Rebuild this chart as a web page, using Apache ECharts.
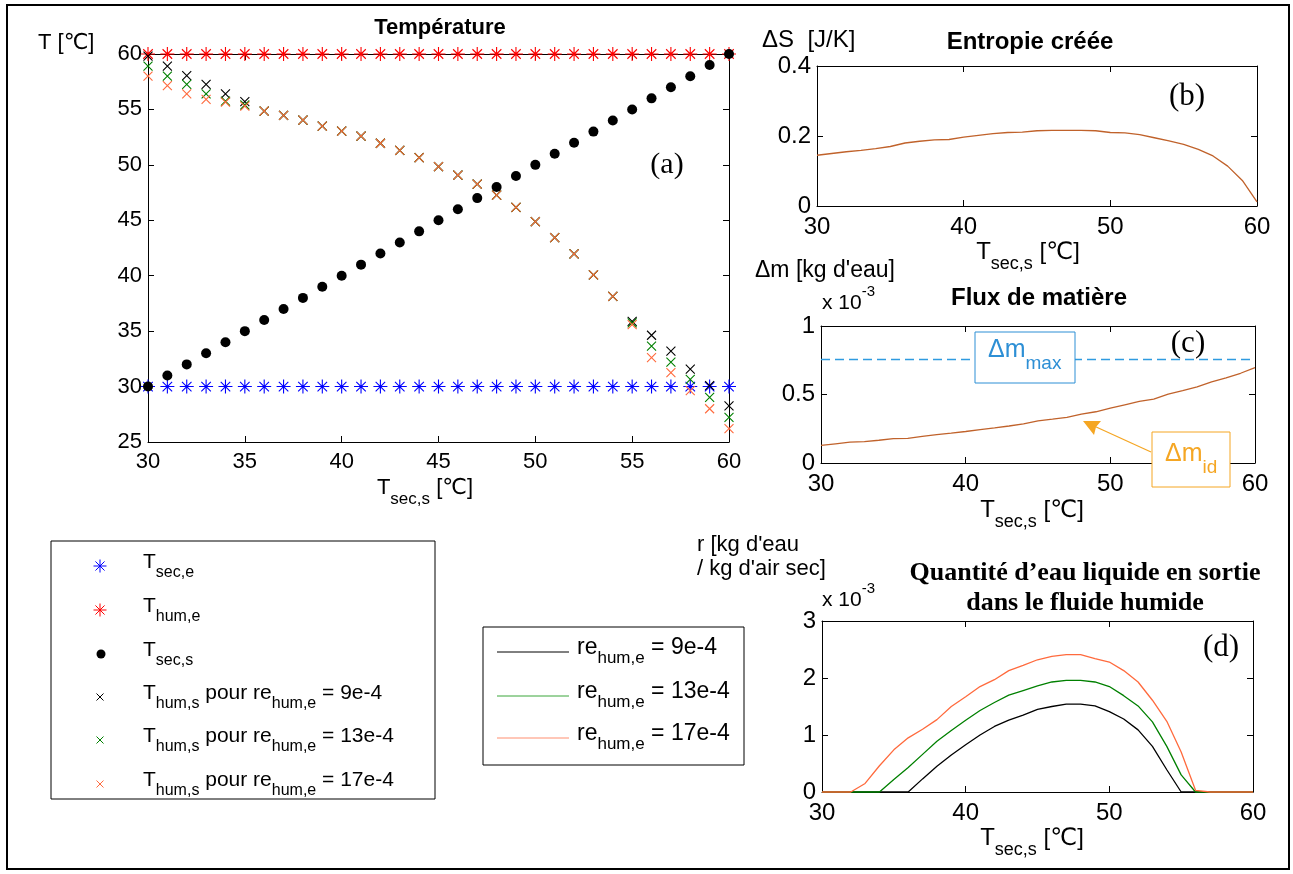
<!DOCTYPE html>
<html><head><meta charset="utf-8">
<script src="https://cdn.jsdelivr.net/npm/echarts@6/dist/echarts.min.js"></script>
<style>html,body{margin:0;padding:0;background:#fff}#c{width:1293px;height:874px}</style>
</head><body><div id="c"></div>
<script>
// ---------- DATA ----------
const tSecOut = [30,31,32,33,34,35,36,37,38,39,40,41,42,43,44,45,46,47,48,49,50,51,52,53,54,55,56,57,58,59,60];
const tSecIn  = [30,30,30,30,30,30,30,30,30,30,30,30,30,30,30,30,30,30,30,30,30,30,30,30,30,30,30,30,30,30,30];
const tHumIn  = [60,60,60,60,60,60,60,60,60,60,60,60,60,60,60,60,60,60,60,60,60,60,60,60,60,60,60,60,60,60,60];
const tHumOut9  = [59.8,58.9,58.05,57.25,56.4,55.7,54.85,54.46,54.04,53.5,53.05,52.6,51.95,51.3,50.66,49.85,49.07,48.26,47.27,46.16,44.87,43.43,41.97,40.08,38.13,35.89,34.63,33.19,31.57,30.08,28.25];
const tHumOut13 = [58.9,58.0,57.25,56.4,55.75,55.4,54.85,54.46,54.04,53.5,53.05,52.6,51.95,51.3,50.66,49.85,49.07,48.26,47.27,46.16,44.87,43.43,41.97,40.08,38.13,35.75,33.64,32.2,30.65,29.03,27.23];
const tHumOut17 = [58.0,57.15,56.4,55.9,55.65,55.3,54.85,54.46,54.04,53.5,53.05,52.6,51.95,51.3,50.66,49.85,49.07,48.26,47.27,46.16,44.87,43.43,41.97,40.08,38.13,35.59,32.62,31.25,29.63,28.0,26.2];
const entropy = [0.145,0.150,0.155,0.159,0.164,0.170,0.180,0.185,0.189,0.190,0.197,0.202,0.207,0.210,0.211,0.215,0.216,0.216,0.216,0.215,0.210,0.209,0.204,0.195,0.186,0.176,0.162,0.143,0.114,0.073,0.012];
const massFlux = [0.128,0.140,0.152,0.156,0.166,0.178,0.180,0.195,0.207,0.218,0.230,0.243,0.256,0.270,0.285,0.308,0.320,0.333,0.357,0.374,0.400,0.425,0.450,0.466,0.502,0.528,0.556,0.592,0.621,0.655,0.696];
const massMax = 0.755;
const liquid9  = [0,0,0,0,0,0,0,0.23,0.45,0.65,0.83,1.00,1.15,1.26,1.35,1.45,1.50,1.54,1.54,1.51,1.41,1.28,1.09,0.80,0.39,0,0,0,0,0,0];
const liquid13 = [0,0,0,0,0,0.22,0.43,0.66,0.89,1.08,1.26,1.43,1.57,1.70,1.78,1.86,1.93,1.96,1.96,1.93,1.85,1.69,1.51,1.23,0.80,0.30,0,0,0,0,0];
const liquid17 = [0,0,0,0.15,0.46,0.74,0.95,1.10,1.27,1.50,1.67,1.85,1.97,2.13,2.22,2.32,2.38,2.41,2.41,2.34,2.28,2.13,1.93,1.61,1.24,0.70,0.03,0,0,0,0];

// ---------- STYLE ----------
const F = 'Liberation Sans, Arial, DejaVu Sans, sans-serif';
const FS = 'Liberation Serif, Times New Roman, DejaVu Serif, serif';
const C_BLUE = '#0000ff', C_RED = '#ff0000', C_GREEN = '#008000', C_ORANGE = '#ff6a3d', C_BROWN = '#c0622b';
const ASTER = 'path://M5,0L5,10M0,5L10,5M1.6,1.6L8.4,8.4M1.6,8.4L8.4,1.6';
const CROSS = 'path://M0,0L10,10M0,10L10,0';

const pairs = (ys) => tSecOut.map((x, i) => [x, ys[i]]);

function xAxes(gi, interval, fs) {
  const common = {
    gridIndex: gi, type: 'value', min: 30, max: 60, interval: interval,
    axisLine: {show: true, onZero: false, lineStyle: {color: '#000', width: 1}},
    axisTick: {show: true, inside: true, length: 6, lineStyle: {color: '#000'}},
    splitLine: {show: false}
  };
  return [
    Object.assign({}, common, {position: 'bottom', axisLabel: {fontSize: fs, color: '#000', fontFamily: F, margin: 9}}),
    Object.assign({}, common, {position: 'top', axisLabel: {show: false}})
  ];
}
function yAxes(gi, min, max, interval, fs) {
  const common = {
    gridIndex: gi, type: 'value', min: min, max: max, interval: interval,
    axisLine: {show: true, onZero: false, lineStyle: {color: '#000', width: 1}},
    axisTick: {show: true, inside: true, length: 6, lineStyle: {color: '#000'}},
    splitLine: {show: false}
  };
  return [
    Object.assign({}, common, {position: 'left', axisLabel: {fontSize: fs, color: '#000', fontFamily: F, margin: 6}}),
    Object.assign({}, common, {position: 'right', axisLabel: {show: false}})
  ];
}

// rich text helpers
function subText(x, yCenter, text, align, color, size) {
  size = size || 21;
  const col = color || '#000';
  const r = {
    b: {fontSize: size, fontFamily: F, lineHeight: size + 3, verticalAlign: 'top', fill: col},
    s: {fontSize: Math.round(size * 0.76), fontFamily: F, lineHeight: Math.round(size * 0.76) + 2, verticalAlign: 'top',
        padding: [Math.round(size * 0.62), 0, 0, 0], fill: col}
  };
  return {type: 'text', x: x, y: yCenter - r.b.lineHeight / 2, silent: true,
    style: {text: text, rich: r, align: align || 'left', verticalAlign: 'top'}};
}
function supText(x, yCenter, base, sup) {
  return {type: 'text', x: x, y: yCenter - 21, silent: true,
    style: {text: '{b|' + base + '}{p|' + sup + '}', align: 'left', verticalAlign: 'top',
      rich: {
        b: {fontSize: 21, fontFamily: F, lineHeight: 24, padding: [9, 0, 0, 0], verticalAlign: 'top', fill: '#000'},
        p: {fontSize: 15, fontFamily: F, lineHeight: 17, verticalAlign: 'top', fill: '#000'}
      }}};
}
function plain(x, y, text, opt) {
  return {type: 'text', x: x, y: y, silent: true,
    style: Object.assign({text: text, fontSize: 21, fontFamily: F, fill: '#000', align: 'left', verticalAlign: 'middle'}, opt || {})};
}
function asterisk(cx, cy, r, color) {
  const d = r * 0.7;
  return [[0, -r, 0, r], [-r, 0, r, 0], [-d, -d, d, d], [-d, d, d, -d]].map(s => ({
    type: 'line', silent: true, shape: {x1: cx + s[0], y1: cy + s[1], x2: cx + s[2], y2: cy + s[3]},
    style: {stroke: color, lineWidth: 1}}));
}
function cross(cx, cy, r, color) {
  return [[-r, -r, r, r], [-r, r, r, -r]].map(s => ({
    type: 'line', silent: true, shape: {x1: cx + s[0], y1: cy + s[1], x2: cx + s[2], y2: cy + s[3]},
    style: {stroke: color, lineWidth: 1}}));
}

const TSS = '{b|T}{s|sec,s}{b| [℃]}';

let graphics = [];
// outer frame
graphics.push({type: 'rect', silent: true, shape: {x: 7, y: 5, width: 1282, height: 864}, style: {fill: 'none', stroke: '#000', lineWidth: 2}, z: -1});
// panel (a)
graphics.push(plain(38, 43, 'T [℃]', {fontSize: 22}));
graphics.push(plain(440, 28, 'Température', {align: 'center', fontWeight: 'bold', fontSize: 22}));
graphics.push(subText(425, 489, TSS, 'center', null, 22));
graphics.push(plain(667, 165, '(a)', {align: 'center', fontFamily: FS, fontSize: 30}));
// panel (b)
graphics.push(plain(762, 40, 'ΔS  [J/K]', {fontSize: 24}));
graphics.push(plain(1030, 42, 'Entropie créée', {align: 'center', fontWeight: 'bold', fontSize: 24}));
graphics.push(subText(1028, 254, TSS, 'center', null, 24));
graphics.push(plain(1187, 97, '(b)', {align: 'center', fontFamily: FS, fontSize: 31}));
// panel (c)
graphics.push(plain(755, 271, 'Δm [kg d\'eau]', {fontSize: 23}));
graphics.push(supText(822, 305, 'x 10', '-3'));
graphics.push(plain(1039, 298, 'Flux de matière', {align: 'center', fontWeight: 'bold', fontSize: 24}));
graphics.push(subText(1032, 512, TSS, 'center', null, 24));
graphics.push(plain(1188, 344, '(c)', {align: 'center', fontFamily: FS, fontSize: 31}));
// annotation boxes in (c)
graphics.push({type: 'rect', silent: true, shape: {x: 975, y: 332, width: 100, height: 51}, style: {fill: '#fff', stroke: '#2d8fd5', lineWidth: 1}, z: 10});
graphics.push(Object.assign(subText(988, 352, '{b|Δm}{s|max}', 'left', '#2d8fd5', 25), {z: 11}));
graphics.push({type: 'rect', silent: true, shape: {x: 1152, y: 432, width: 78, height: 55}, style: {fill: '#fff', stroke: '#f5a623', lineWidth: 1}, z: 10});
graphics.push(Object.assign(subText(1165, 456, '{b|Δm}{s|id}', 'left', '#f5a623', 25), {z: 11}));
graphics.push({type: 'line', silent: true, shape: {x1: 1151, y1: 452, x2: 1094, y2: 426}, style: {stroke: '#f5a623', lineWidth: 1.3}, z: 10});
graphics.push({type: 'polygon', silent: true, shape: {points: [[1083, 421], [1101, 421], [1096, 427], [1094, 435]]}, style: {fill: '#f5a623'}, z: 10});
// panel (d)
graphics.push(plain(697, 545, 'r [kg d\'eau', {fontSize: 22}));
graphics.push(plain(697, 569, '/ kg d\'air sec]', {fontSize: 22}));
graphics.push(plain(1085, 573, 'Quantité d’eau liquide en sortie', {align: 'center', fontFamily: FS, fontWeight: 'bold', fontSize: 26}));
graphics.push(plain(1085, 603, 'dans le fluide humide', {align: 'center', fontFamily: FS, fontWeight: 'bold', fontSize: 26}));
graphics.push(supText(822, 602, 'x 10', '-3'));
graphics.push(subText(1032, 840, TSS, 'center', null, 24));
graphics.push(plain(1221, 648, '(d)', {align: 'center', fontFamily: FS, fontSize: 31}));

// legend 1
graphics.push({type: 'rect', silent: true, shape: {x: 51, y: 541, width: 384, height: 258}, style: {fill: '#fff', stroke: '#000', lineWidth: 1}});
const leg1 = [
  {y: 566, t: '{b|T}{s|sec,e}'},
  {y: 610, t: '{b|T}{s|hum,e}'},
  {y: 654, t: '{b|T}{s|sec,s}'},
  {y: 697, t: '{b|T}{s|hum,s}{b| pour re}{s|hum,e}{b| = 9e-4}'},
  {y: 740, t: '{b|T}{s|hum,s}{b| pour re}{s|hum,e}{b| = 13e-4}'},
  {y: 784, t: '{b|T}{s|hum,s}{b| pour re}{s|hum,e}{b| = 17e-4}'}
];
leg1.forEach(l => graphics.push(subText(143, l.y - 2, l.t, 'left', null, 21)));
graphics = graphics.concat(asterisk(100, 566, 6.5, C_BLUE));
graphics = graphics.concat(asterisk(100, 610, 6.5, C_RED));
graphics.push({type: 'circle', silent: true, shape: {cx: 101, cy: 654, r: 4.5}, style: {fill: '#000'}});
graphics = graphics.concat(cross(100, 697, 3.5, '#000'));
graphics = graphics.concat(cross(100, 740, 3.5, C_GREEN));
graphics = graphics.concat(cross(100, 784, 3.5, C_ORANGE));
// legend 2
graphics.push({type: 'rect', silent: true, shape: {x: 483, y: 627, width: 261, height: 138}, style: {fill: '#fff', stroke: '#000', lineWidth: 1}});
[[652, '#000', '9e-4'], [696, '#3aa63a', '13e-4'], [738, '#ff8f70', '17e-4']].forEach(r => {
  graphics.push({type: 'line', silent: true, shape: {x1: 497, y1: r[0], x2: 569, y2: r[0]}, style: {stroke: r[1], lineWidth: 1}});
  graphics.push(subText(577, r[0] - 3, '{b|re}{s|hum,e}{b| = ' + r[2] + '}', 'left', null, 23));
});

const scatterStroke = (name, ys, sym, size, color) => ({
  name: name, type: 'scatter', xAxisIndex: 0, yAxisIndex: 0, data: pairs(ys), symbol: sym, symbolSize: size,
  itemStyle: {color: 'transparent', borderColor: color, borderWidth: 1.1, opacity: 1}, silent: true
});
const lineS = (name, ys, gi, color, extra) => Object.assign({
  name: name, type: 'line', xAxisIndex: gi * 2, yAxisIndex: gi * 2, data: pairs(ys), symbol: 'none',
  lineStyle: {color: color, width: 1.3}, silent: true, clip: false
}, extra || {});

const option = {
  animation: false,
  backgroundColor: '#fff',
  grid: [
    {left: 148, top: 54, width: 581, height: 388},
    {left: 817, top: 66, width: 440, height: 140},
    {left: 821, top: 326, width: 434, height: 137},
    {left: 822, top: 621, width: 431, height: 171}
  ],
  xAxis: [].concat(xAxes(0, 5, 22), xAxes(1, 10, 24), xAxes(2, 10, 24), xAxes(3, 10, 24)),
  yAxis: [].concat(yAxes(0, 25, 60, 5, 22), yAxes(1, 0, 0.4, 0.2, 24), yAxes(2, 0, 1, 0.5, 24), yAxes(3, 0, 3, 1, 24)),
  series: [
    scatterStroke('T_sec,e', tSecIn, ASTER, 14, C_BLUE),
    scatterStroke('T_hum,e', tHumIn, ASTER, 14, C_RED),
    {name: 'T_sec,s', type: 'scatter', xAxisIndex: 0, yAxisIndex: 0, data: pairs(tSecOut), symbol: 'circle', symbolSize: 10,
      itemStyle: {color: '#000', opacity: 1}, silent: true},
    scatterStroke('T_hum,s 9e-4', tHumOut9, CROSS, 9, '#000'),
    scatterStroke('T_hum,s 13e-4', tHumOut13, CROSS, 9, C_GREEN),
    scatterStroke('T_hum,s 17e-4', tHumOut17, CROSS, 9, C_ORANGE),
    lineS('Entropie', entropy, 1, C_BROWN),
    lineS('Flux', massFlux, 2, C_BROWN),
    {name: 'Δm max', type: 'line', xAxisIndex: 4, yAxisIndex: 4, data: [[30, massMax], [60, massMax]], symbol: 'none',
      lineStyle: {color: '#2f9be0', width: 1.5, type: [9, 5]}, silent: true},
    lineS('re 9e-4', liquid9, 3, '#000'),
    lineS('re 13e-4', liquid13, 3, C_GREEN),
    lineS('re 17e-4', liquid17, 3, C_ORANGE)
  ],
  graphic: graphics
};
const chart = echarts.init(document.getElementById('c'), null, {renderer: 'canvas'});
chart.setOption(option);
</script>
</body></html>
